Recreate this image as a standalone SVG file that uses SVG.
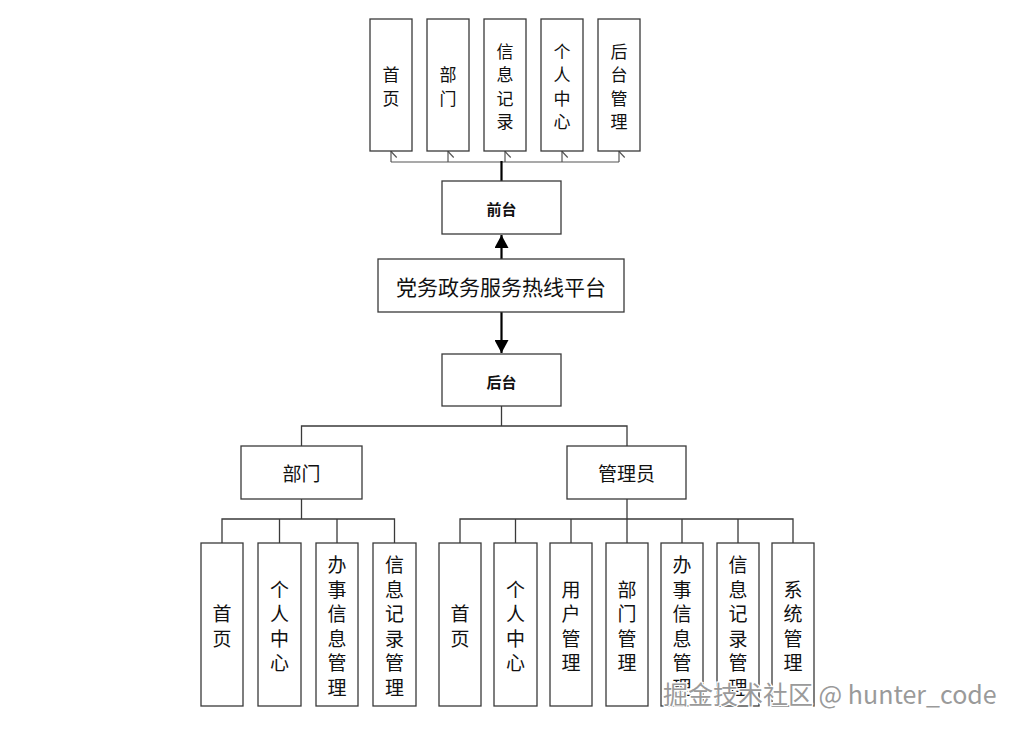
<svg xmlns="http://www.w3.org/2000/svg" width="1028" height="730" viewBox="0 0 1028 730">
<style>
.box{fill:#fff;stroke:#3a3a3a;stroke-width:1.3}
.t{font-family:"Noto Sans CJK SC","Noto Sans",sans-serif;fill:#111;text-anchor:middle;dominant-baseline:central}
.v17{font-size:17px}
.v19{font-size:19px}
.b{font-size:15px;font-weight:bold}
.ln{fill:none;stroke:#3a3a3a;stroke-width:1.3}
.thin{fill:none;stroke:#555;stroke-width:1.2}
.thick{fill:none;stroke:#000;stroke-width:2.2}
.wm{font-family:"Noto Sans CJK SC","Liberation Sans",sans-serif;font-size:25px;fill:#9a9a9a;stroke:#fff;stroke-width:2.5;paint-order:stroke}
</style>
<defs>
<marker id="open" markerWidth="14" markerHeight="8" refX="7" refY="0.8" orient="auto-start-reverse" markerUnits="userSpaceOnUse" viewBox="0 0 14 8">
<path d="M1,6.5 L7,0.8 L13,6.5" fill="none" stroke="#555" stroke-width="1.2"/>
</marker>
<marker id="fill" markerWidth="14" markerHeight="14" refX="7" refY="0" markerUnits="userSpaceOnUse" viewBox="0 0 14 14">
<path d="M0,13 L7,0 L14,13 Z" fill="#000"/>
</marker>
<marker id="fillDown" markerWidth="14" markerHeight="14" refX="7" refY="14" markerUnits="userSpaceOnUse" viewBox="0 0 14 14">
<path d="M0,1 L7,14 L14,1 Z" fill="#000"/>
</marker>
</defs>
<rect width="1028" height="730" fill="#fff"/>

<g id="connectors">
<path class="thin" d="M391,162 H619"/>
<path class="thin" d="M391,162 V151.5" marker-end="url(#open)"/>
<path class="thin" d="M448,162 V151.5" marker-end="url(#open)"/>
<path class="thin" d="M505,162 V151.5" marker-end="url(#open)"/>
<path class="thin" d="M562,162 V151.5" marker-end="url(#open)"/>
<path class="thin" d="M619,162 V151.5" marker-end="url(#open)"/>
<path class="thick" d="M501.5,181 V161"/>
<path class="thick" d="M501.5,259 V235" marker-end="url(#fill)"/>
<path class="thick" d="M501.5,312 V353" marker-end="url(#fillDown)"/>
<path class="ln" d="M501.5,406 V426 M301.5,446 V426 H627 V446"/>
<path class="ln" d="M301.5,499 V519 M222,543 V519 H394.5 V543 M279.5,519 V543 M337,519 V543"/>
<path class="ln" d="M627,499 V519 M460,543 V519 H793 V543 M515.5,519 V543 M571,519 V543 M627,519 V543 M682,519 V543 M738,519 V543"/>
</g>

<g id="top-home"><rect class="box" x="370" y="19" width="42" height="132"/><text class="t v17" x="391"><tspan x="391" y="73.3">首</tspan><tspan x="391" y="96.7">页</tspan></text></g>
<g id="top-dept"><rect class="box" x="427" y="19" width="42" height="132"/><text class="t v17"><tspan x="448" y="73.3">部</tspan><tspan x="448" y="96.7">门</tspan></text></g>
<g id="top-record"><rect class="box" x="484" y="19" width="42" height="132"/><text class="t v17"><tspan x="505" y="50">信</tspan><tspan x="505" y="73.3">息</tspan><tspan x="505" y="96.7">记</tspan><tspan x="505" y="120">录</tspan></text></g>
<g id="top-personal"><rect class="box" x="541" y="19" width="42" height="132"/><text class="t v17"><tspan x="562" y="50">个</tspan><tspan x="562" y="73.3">人</tspan><tspan x="562" y="96.7">中</tspan><tspan x="562" y="120">心</tspan></text></g>
<g id="top-admin"><rect class="box" x="598" y="19" width="42" height="132"/><text class="t v17"><tspan x="619" y="50">后</tspan><tspan x="619" y="73.3">台</tspan><tspan x="619" y="96.7">管</tspan><tspan x="619" y="120">理</tspan></text></g>

<g id="frontend"><rect class="box" x="442" y="181" width="119" height="53"/><text class="t b" x="501.5" y="208.5">前台</text></g>
<g id="platform"><rect class="box" x="378" y="259" width="246" height="53"/><text class="t" style="font-size:21px" x="501" y="286">党务政务服务热线平台</text></g>
<g id="backend"><rect class="box" x="442" y="354" width="119" height="52"/><text class="t b" x="501.5" y="381">后台</text></g>

<g id="dept"><rect class="box" x="241" y="446" width="121" height="53"/><text class="t" style="font-size:19px" x="301.5" y="472.5">部门</text></g>
<g id="admin"><rect class="box" x="567" y="446" width="119" height="53"/><text class="t" style="font-size:19px" x="626.5" y="472.5">管理员</text></g>

<g id="d-home"><rect class="box" x="201" y="543" width="42" height="163"/><text class="t v19"><tspan x="222" y="612.25">首</tspan><tspan x="222" y="636.75">页</tspan></text></g>
<g id="d-personal"><rect class="box" x="258" y="543" width="43" height="163"/><text class="t v19"><tspan x="279.5" y="587.75">个</tspan><tspan x="279.5" y="612.25">人</tspan><tspan x="279.5" y="636.75">中</tspan><tspan x="279.5" y="661.25">心</tspan></text></g>
<g id="d-affairs"><rect class="box" x="316" y="543" width="42" height="163"/><text class="t v19"><tspan x="337" y="563.25">办</tspan><tspan x="337" y="587.75">事</tspan><tspan x="337" y="612.25">信</tspan><tspan x="337" y="636.75">息</tspan><tspan x="337" y="661.25">管</tspan><tspan x="337" y="685.75">理</tspan></text></g>
<g id="d-record"><rect class="box" x="373" y="543" width="43" height="163"/><text class="t v19"><tspan x="394.5" y="563.25">信</tspan><tspan x="394.5" y="587.75">息</tspan><tspan x="394.5" y="612.25">记</tspan><tspan x="394.5" y="636.75">录</tspan><tspan x="394.5" y="661.25">管</tspan><tspan x="394.5" y="685.75">理</tspan></text></g>

<g id="a-home"><rect class="box" x="439" y="543" width="42" height="163"/><text class="t v19"><tspan x="460" y="612.25">首</tspan><tspan x="460" y="636.75">页</tspan></text></g>
<g id="a-personal"><rect class="box" x="494" y="543" width="43" height="163"/><text class="t v19"><tspan x="515.5" y="587.75">个</tspan><tspan x="515.5" y="612.25">人</tspan><tspan x="515.5" y="636.75">中</tspan><tspan x="515.5" y="661.25">心</tspan></text></g>
<g id="a-user"><rect class="box" x="550" y="543" width="42" height="163"/><text class="t v19"><tspan x="571" y="587.75">用</tspan><tspan x="571" y="612.25">户</tspan><tspan x="571" y="636.75">管</tspan><tspan x="571" y="661.25">理</tspan></text></g>
<g id="a-dept"><rect class="box" x="606" y="543" width="42" height="163"/><text class="t v19"><tspan x="627" y="587.75">部</tspan><tspan x="627" y="612.25">门</tspan><tspan x="627" y="636.75">管</tspan><tspan x="627" y="661.25">理</tspan></text></g>
<g id="a-affairs"><rect class="box" x="661" y="543" width="42" height="163"/><text class="t v19"><tspan x="682" y="563.25">办</tspan><tspan x="682" y="587.75">事</tspan><tspan x="682" y="612.25">信</tspan><tspan x="682" y="636.75">息</tspan><tspan x="682" y="661.25">管</tspan><tspan x="682" y="685.75">理</tspan></text></g>
<g id="a-record"><rect class="box" x="717" y="543" width="42" height="163"/><text class="t v19"><tspan x="738" y="563.25">信</tspan><tspan x="738" y="587.75">息</tspan><tspan x="738" y="612.25">记</tspan><tspan x="738" y="636.75">录</tspan><tspan x="738" y="661.25">管</tspan><tspan x="738" y="685.75">理</tspan></text></g>
<g id="a-system"><rect class="box" x="772" y="543" width="42" height="163"/><text class="t v19"><tspan x="793" y="587.75">系</tspan><tspan x="793" y="612.25">统</tspan><tspan x="793" y="636.75">管</tspan><tspan x="793" y="661.25">理</tspan></text></g>

<text class="wm" x="663" y="704">掘金技术社区 @ hunter_code</text>
</svg>
